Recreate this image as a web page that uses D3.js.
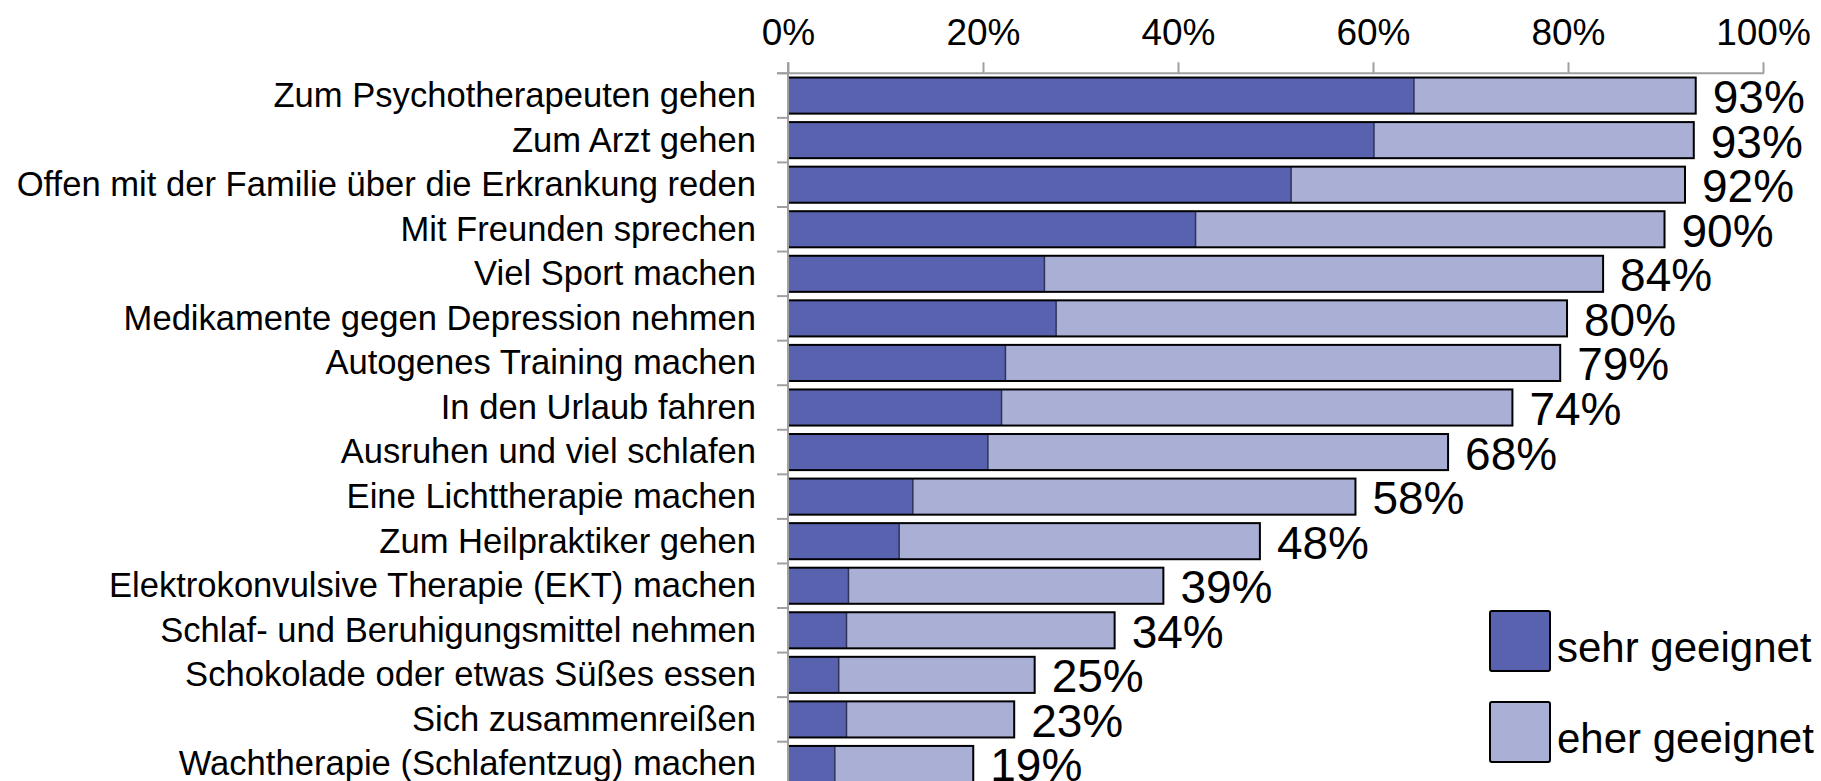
<!DOCTYPE html>
<html>
<head>
<meta charset="utf-8">
<script src="https://cdn.jsdelivr.net/npm/d3@7"></script>
<style>
    html, body { margin: 0; padding: 0; background: #fff; overflow: hidden; }
    svg { display: block; font-family: "Liberation Sans", Arial, sans-serif; }
</style>
</head>
<body>
<svg id="chart" width="1821" height="781"></svg>
<script>
(function () {
    "use strict";

    // categories, top to bottom
    const categories = [
        "Zum Psychotherapeuten gehen",
        "Zum Arzt gehen",
        "Offen mit der Familie über die Erkrankung reden",
        "Mit Freunden sprechen",
        "Viel Sport machen",
        "Medikamente gegen Depression nehmen",
        "Autogenes Training machen",
        "In den Urlaub fahren",
        "Ausruhen und viel schlafen",
        "Eine Lichttherapie machen",
        "Zum Heilpraktiker gehen",
        "Elektrokonvulsive Therapie (EKT) machen",
        "Schlaf- und Beruhigungsmittel nehmen",
        "Schokolade oder etwas Süßes essen",
        "Sich zusammenreißen",
        "Wachtherapie (Schlafentzug) machen"
    ];

    // share "sehr geeignet" (%)
    const sehrGeeignet = [64.2, 60.1, 51.6, 41.8, 26.3, 27.5, 22.3, 21.9, 20.5, 12.8, 11.4, 6.2, 6.0, 5.2, 6.0, 4.8];
    // total "sehr" + "eher geeignet" (%)
    const total = [93.1, 92.9, 92.0, 89.9, 83.6, 79.9, 79.2, 74.3, 67.7, 58.2, 48.4, 38.5, 33.5, 25.3, 23.2, 19.0];
    // printed totals
    const totalLabels = ["93%", "93%", "92%", "90%", "84%", "80%", "79%", "74%", "68%", "58%", "48%", "39%", "34%", "25%", "23%", "19%"];

    const xTicks = [0, 20, 40, 60, 80, 100];
    const legendLabels = ["sehr geeignet", "eher geeignet"];
    const colors = ["#5862ae", "#aaafd6"];

    const axisColor = "#a0a0a0";
    const svg = d3.select("#chart");

    const left = 788;
    const right = 1763;
    const top = 73.3;
    const step = 44.56;

    const x = d3.scaleLinear()
        .domain([0, 100])
        .range([left, right]);

    const y = d3.scaleBand()
        .domain(categories)
        .range([top, top + step * categories.length])
        .paddingInner(0.19)
        .paddingOuter(0.095);

    // top axis
    const xAxis = d3.axisTop(x)
        .tickValues(xTicks)
        .tickFormat(d => d + "%")
        .tickSize(11)
        .tickSizeOuter(0)
        .tickPadding(17);

    const gx = svg.append("g")
        .attr("transform", `translate(0,${top})`)
        .call(xAxis);

    gx.select(".domain").remove();
    gx.selectAll(".tick line")
        .attr("stroke", axisColor)
        .attr("stroke-width", 2);
    gx.selectAll(".tick text")
        .attr("fill", "#000")
        .style("font-size", "37px");

    // horizontal axis line, slightly extended to the left like the original
    svg.append("line")
        .attr("x1", left - 11)
        .attr("x2", right + 1)
        .attr("y1", top)
        .attr("y2", top)
        .attr("stroke", axisColor)
        .attr("stroke-width", 2);

    // ticks at the band borders
    svg.append("g")
        .selectAll("line")
        .data(categories)
        .join("line")
        .attr("x1", left - 11)
        .attr("x2", left)
        .attr("y1", d => y(d) - y.step() * y.paddingInner() / 2)
        .attr("y2", d => y(d) - y.step() * y.paddingInner() / 2)
        .attr("stroke", axisColor)
        .attr("stroke-width", 2);

    // category labels
    svg.append("g")
        .selectAll("text")
        .data(categories)
        .join("text")
        .attr("x", left - 32)
        .attr("y", d => y(d) + y.bandwidth() / 2)
        .attr("dy", "0.33em")
        .attr("text-anchor", "end")
        .style("font-size", "34.6px")
        .text(d => d);

    const rows = categories.map((c, i) => ({
        name: c,
        sehr: sehrGeeignet[i],
        total: total[i],
        label: totalLabels[i]
    }));

    const bars = svg.append("g")
        .selectAll("g")
        .data(rows)
        .join("g");

    // eher geeignet (light)
    bars.append("rect")
        .attr("x", d => x(d.sehr))
        .attr("y", d => y(d.name))
        .attr("width", d => x(d.total) - x(d.sehr))
        .attr("height", y.bandwidth())
        .attr("fill", colors[1]);

    // sehr geeignet (dark)
    bars.append("rect")
        .attr("x", x(0))
        .attr("y", d => y(d.name))
        .attr("width", d => x(d.sehr) - x(0))
        .attr("height", y.bandwidth())
        .attr("fill", colors[0]);

    // divider between the two parts
    bars.append("line")
        .attr("x1", d => x(d.sehr))
        .attr("x2", d => x(d.sehr))
        .attr("y1", d => y(d.name))
        .attr("y2", d => y(d.name) + y.bandwidth())
        .attr("stroke", "#2e3358")
        .attr("stroke-width", 1.5);

    // outline of the stacked bar
    bars.append("rect")
        .attr("x", x(0))
        .attr("y", d => y(d.name))
        .attr("width", d => x(d.total) - x(0))
        .attr("height", y.bandwidth())
        .attr("fill", "none")
        .attr("stroke", "#000")
        .attr("stroke-width", 2);

    // total labels
    bars.append("text")
        .attr("x", d => x(d.total) + 17)
        .attr("y", d => y(d.name) + y.bandwidth() / 2)
        .attr("dy", "0.38em")
        .style("font-size", "46px")
        .text(d => d.label);

    // vertical axis line drawn over the bar borders
    svg.append("line")
        .attr("x1", left)
        .attr("x2", left)
        .attr("y1", top - 11)
        .attr("y2", 800)
        .attr("stroke", axisColor)
        .attr("stroke-width", 2);

    // legend
    const legend = svg.append("g")
        .selectAll("g")
        .data(legendLabels)
        .join("g")
        .attr("transform", (d, i) => `translate(1490,${611 + i * 91})`);

    legend.append("rect")
        .attr("width", 60)
        .attr("height", 60)
        .attr("rx", 2)
        .attr("fill", (d, i) => colors[i])
        .attr("stroke", "#000")
        .attr("stroke-width", 2);

    legend.append("text")
        .attr("x", 67)
        .attr("y", 51)
        .style("font-size", "42px")
        .text(d => d);
}());
</script>
</body>
</html>
